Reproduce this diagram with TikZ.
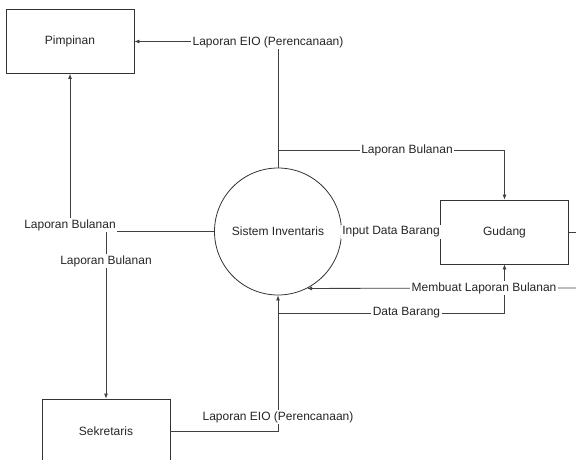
\documentclass[tikz,border=0pt]{standalone}
\usepackage{fontspec}
\setmainfont{Liberation Sans}
\usetikzlibrary{arrows.meta}
\begin{document}
\begin{tikzpicture}[x=1pt,y=-1pt,
  every node/.style={font=\fontsize{12}{14}\selectfont, text=black!85},
  box/.style={draw=black!80, line width=0.8pt, minimum width=128pt, minimum height=64pt, inner sep=0pt},
  proc/.style={draw=black!80, circle, line width=0.8pt, minimum size=127pt, inner sep=0pt},
  conn/.style={draw=black!75, line width=0.8pt},
  flow/.style={conn, -{Latex[length=5pt,width=4pt]}},
  lbl/.style={fill=white, inner sep=1.5pt}
]
\useasboundingbox (0,0) rectangle (576,460);
\clip (0,0) rectangle (576,460);

\node[box] (pim) at (70,41.5) {Pimpinan};
\node[proc] (sis) at (278,231.5) {Sistem Inventaris};
\node[box] (gud) at (504.5,232) {Gudang};
\node[box] (sek) at (106,431) {Sekretaris};

\coordinate (jTop) at (278,150);
\coordinate (jLeft) at (106,232);
\coordinate (jBot) at (278,313);
\coordinate (rOut) at (576,232);
\coordinate (rIn) at (576,288);

\draw[flow] (sis.north) |- (pim.east);
\draw[flow] (jTop) -| (gud.north);
\draw[conn] (sis.east) -- (gud.west);
\draw[conn] (gud.east) -- (rOut);
\draw[flow] (rIn) -- (sis.-63);
\draw[flow] (jBot) -| (gud.south);
\draw[flow] (sek.east) -| (sis.south);
\draw[flow] (sis.west) -| (pim.south);
\draw[flow] (jLeft) -- (sek.north);

\node[lbl] (l1) at (268,42) {Laporan EIO (Perencanaan)};
\node[lbl] (l2) at (407,150) {Laporan Bulanan};
\node[lbl] (l3) at (391,232) {Input Data Barang};
\node[lbl] (l4) at (484,288) {Membuat Laporan Bulanan};
\node[lbl] (l5) at (406.5,313) {Data Barang};
\node[lbl] (l6) at (278,417) {Laporan EIO (Perencanaan)};
\node[lbl] (l7) at (70,225) {Laporan Bulanan};
\node[lbl] (l8) at (106,261) {Laporan Bulanan};
\end{tikzpicture}
\end{document}
